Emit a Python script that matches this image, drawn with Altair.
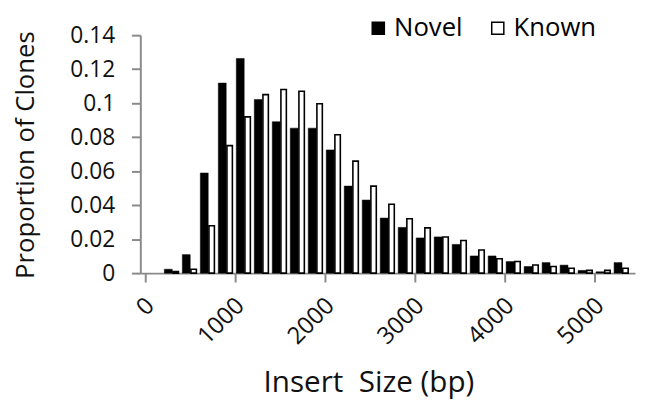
import altair as alt
import pandas as pd

centers = [300, 500, 700, 900, 1100, 1300, 1500, 1700, 1900, 2100, 2300, 2500, 2700,
           2900, 3100, 3300, 3500, 3700, 3900, 4100, 4300, 4500, 4700, 4900, 5100, 5300]
novel = [0.0023, 0.0109, 0.0589, 0.1118, 0.1263, 0.1021, 0.0891, 0.0853, 0.0853, 0.0725,
         0.0512, 0.0430, 0.0324, 0.0269, 0.0207, 0.0213, 0.0169, 0.0101, 0.0101, 0.0068,
         0.0039, 0.0062, 0.0047, 0.0016, 0.0008, 0.0062]
known = [0.0010, 0.0023, 0.0279, 0.0750, 0.0919, 0.1050, 0.1080, 0.1070, 0.0996, 0.0814,
         0.0659, 0.0512, 0.0405, 0.0320, 0.0266, 0.0213, 0.0192, 0.0136, 0.0085, 0.0068,
         0.0048, 0.0039, 0.0029, 0.0016, 0.0016, 0.0029]
series = ["Novel", "Known"]
x_ticks = [0, 1000, 2000, 3000, 4000, 5000]
y_ticks = [0, 0.02, 0.04, 0.06, 0.08, 0.1, 0.12, 0.14]

rows = []
for c, n, k in zip(centers, novel, known):
    rows.append({"size": c, "series": "Novel", "value": n})
    rows.append({"size": c, "series": "Known", "value": k})
df = pd.DataFrame(rows)

FONT = "Open Sans"
AX = "#8a8a8a"

x_enc = alt.X("size:Q",
              scale=alt.Scale(domain=[0, 5390], nice=False, zero=False),
              axis=alt.Axis(values=x_ticks, format="d", title="Insert\u00a0 Size (bp)",
                            labelAngle=-45, labelAlign="right", labelBaseline="middle",
                            labelPadding=20, labelOffset=5, tickSize=9,
                            titleX=231, titleY=120, titleBaseline="alphabetic",
                            titleAlign="center",
                            titleFontSize=30, labelFontSize=24))
y_enc = alt.Y("value:Q",
              scale=alt.Scale(domain=[0, 0.14], nice=False),
              axis=alt.Axis(values=y_ticks, format="~g", title="Proportion of Clones",
                            tickSize=9, labelPadding=17,
                            titleX=-116, titleY=121, titleBaseline="middle",
                            titleAlign="center", titleAngle=-90,
                            titleFontSize=26, labelFontSize=23))
color_enc = alt.Color("series:N",
                      scale=alt.Scale(domain=series, range=["#000000", "#ffffff"]),
                      legend=alt.Legend(title=None, orient="none", direction="horizontal",
                                        legendX=228, legendY=-20, symbolType="square",
                                        symbolSize=150, symbolStrokeColor="black",
                                        symbolStrokeWidth=1.5, labelFontSize=26,
                                        labelFont=FONT, columnPadding=22,
                                        symbolOffset=0, labelOffset=3))

novel_layer = alt.Chart(df).transform_filter(alt.datum.series == "Novel").mark_bar(
    width=8, xOffset=-4, stroke="black", strokeWidth=0.5
).encode(x=x_enc, y=y_enc, color=color_enc)

known_layer = alt.Chart(df).transform_filter(alt.datum.series == "Known").mark_bar(
    width=5.5, xOffset=3.5, stroke="black", strokeWidth=1.6
).encode(x=x_enc, y=y_enc, color=color_enc)

chart = alt.layer(novel_layer, known_layer).properties(
    width=501, height=241,
    autosize=alt.AutoSizeParams(type="none"),
    padding={"left": 134, "top": 25, "right": 2, "bottom": 127},
).configure_view(stroke=None).configure_axis(
    domainColor=AX, domainWidth=2, tickColor=AX, tickWidth=2, grid=False,
    labelFont=FONT, titleFont=FONT, labelColor="#111111", titleColor="#111111",
    titleFontWeight="normal"
)

chart.save("out.html", embed_options={"renderer": "svg", "actions": False})
